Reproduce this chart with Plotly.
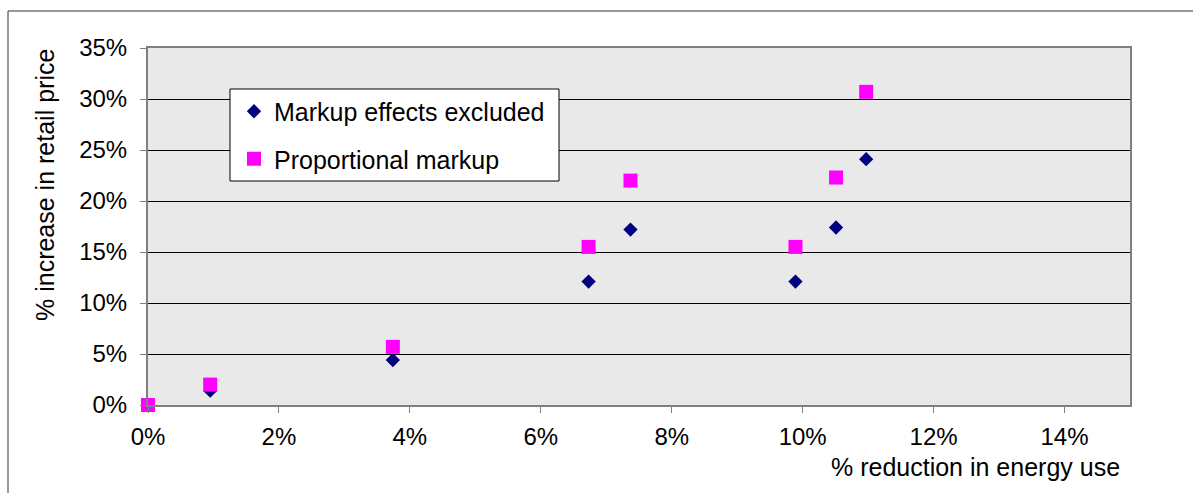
import plotly.graph_objects as go

# Data (percent values)
energy_reduction = [0.0, 0.95, 3.74, 6.73, 7.37, 9.89, 10.51, 10.97]
markup_excluded = [0.0, 1.4, 4.4, 12.1, 17.2, 12.1, 17.4, 24.1]
proportional_markup = [0.0, 2.0, 5.7, 15.5, 22.0, 15.5, 22.3, 30.7]

series_names = ["Markup effects excluded", "Proportional markup"]
x_title = "% reduction in energy use"
y_title = "% increase in retail price"

W, H = 1193, 493
L, R, T, B = 148, 1130, 48, 405  # plot area in pixels


def px_x(p):
    return (p - L) / (R - L)


def px_y(p):
    return (B - p) / (B - T)


FONT = "Liberation Sans, Arial, sans-serif"

fig = go.Figure()
fig.add_trace(go.Scatter(
    x=energy_reduction, y=markup_excluded, mode="markers", name=series_names[0],
    legendgroup="a",
    marker=dict(symbol="diamond", size=11, color="#000080", line=dict(width=0)),
    cliponaxis=False,
))
fig.add_trace(go.Scatter(
    x=energy_reduction, y=proportional_markup, mode="markers", name=series_names[1],
    legendgroup="b",
    marker=dict(symbol="square", size=14, color="#FF00FF", line=dict(width=0)),
    cliponaxis=False,
))

shapes = [
    # outer chart frame (extends beyond the visible window on right and bottom)
    dict(type="rect", xref="paper", yref="paper",
         x0=px_x(8), x1=px_x(1260), y0=px_y(560), y1=px_y(11),
         line=dict(color="#333333", width=1), fillcolor="rgba(0,0,0,0)", layer="below"),
    # legend box
    dict(type="rect", xref="paper", yref="paper",
         x0=px_x(230), x1=px_x(559), y0=px_y(181), y1=px_y(89),
         line=dict(color="#000000", width=1), fillcolor="#FFFFFF", layer="above"),
]

annotations = [
    dict(text=x_title, xref="paper", yref="paper", x=px_x(1122), y=px_y(467),
         xanchor="right", yanchor="middle", showarrow=False,
         font=dict(family=FONT, size=25, color="#000000")),
    dict(text=y_title, xref="paper", yref="paper", x=px_x(45), y=px_y(185),
         xanchor="center", yanchor="middle", textangle=-90, showarrow=False,
         font=dict(family=FONT, size=25, color="#000000")),
]

fig.update_layout(
    width=W, height=H,
    margin=dict(l=L, r=W - R, t=T, b=H - B, pad=0),
    paper_bgcolor="#FFFFFF",
    plot_bgcolor="#E9E9E9",
    font=dict(family=FONT, size=24, color="#000000"),
    showlegend=True,
    legend=dict(
        x=px_x(234), y=px_y(88.5), xanchor="left", yanchor="top",
        bgcolor="rgba(0,0,0,0)", borderwidth=0,
        font=dict(family=FONT, size=25, color="#000000"),
        tracegroupgap=12, itemwidth=30,
    ),
    shapes=shapes,
    annotations=annotations,
)

fig.update_xaxes(
    range=[0, 15], dtick=2, tick0=0, ticksuffix="%",
    showgrid=False, zeroline=False,
    showline=True, linecolor="#808080", linewidth=2, mirror=True,
    ticks="outside", ticklen=6, tickcolor="#808080", tickwidth=1,
    ticklabelstandoff=3,
    tickfont=dict(family=FONT, size=24, color="#000000"),
)
fig.update_yaxes(
    range=[0, 35], dtick=5, tick0=0, ticksuffix="%",
    showgrid=True, gridcolor="#000000", gridwidth=1, zeroline=False,
    showline=True, linecolor="#808080", linewidth=2, mirror=True,
    ticks="outside", ticklen=6, tickcolor="#808080", tickwidth=1,
    ticklabelstandoff=8,
    tickfont=dict(family=FONT, size=24, color="#000000"),
)

fig.write_html("out.html")
